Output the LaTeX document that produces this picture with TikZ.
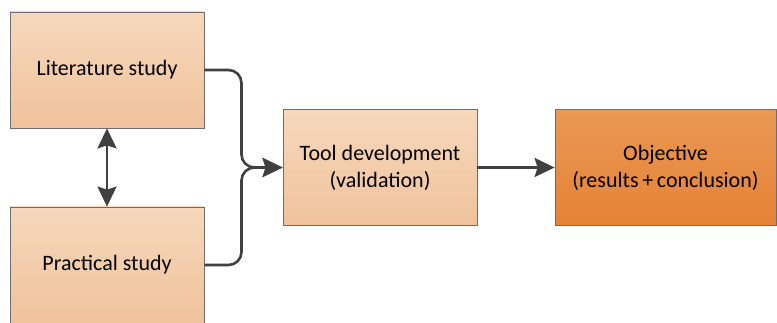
\documentclass[tikz,border=0pt]{standalone}
\usepackage{fontspec}
\setmainfont{Carlito}
\usetikzlibrary{arrows.meta}
\definecolor{lighttop}{RGB}{246,216,188}
\definecolor{lightbot}{RGB}{240,194,156}
\definecolor{darktop}{RGB}{234,152,86}
\definecolor{darkbot}{RGB}{229,130,52}
\definecolor{edgegray}{RGB}{110,110,110}
\definecolor{linegray}{RGB}{64,64,64}
\tikzset{
  lightbox/.style={draw=edgegray, line width=0.8pt, top color=lighttop, bottom color=lightbot,
    minimum width=194pt, minimum height=116pt, inner sep=0pt, align=center, font=\fontsize{22}{27}\selectfont, text=black},
  darkbox/.style={lightbox, top color=darktop, bottom color=darkbot, minimum width=221pt},
  conn/.style={draw=linegray, line width=2.6pt, -{Stealth[length=20pt,width=19pt,inset=3pt]}},
  dconn/.style={draw=linegray, line width=2.6pt, {Stealth[length=20pt,width=19pt,inset=3pt]}-{Stealth[length=20pt,width=19pt,inset=3pt]}}
}
\begin{document}
\begin{tikzpicture}[x=1pt,y=-1pt]
\useasboundingbox (0,0) rectangle (777,323);
\node[lightbox] (lit) at (107,70) {Literature study};
\node[lightbox] (prac) at (107,265) {Practical study};
\node[lightbox] (tool) at (380,167.5) {Tool development\\(validation)};
\node[darkbox] (obj) at (665.5,167.5) {Objective\\(results\,+\,conclusion)};
\coordinate (m) at (241.5,167.5);
\draw[conn, rounded corners=13pt] (lit.east) -| (m) -- (tool.west);
\draw[conn, rounded corners=13pt] (prac.east) -| (m) -- (tool.west);
\draw[conn] (tool.east) -- (obj.west);
\draw[dconn] (lit.south) -- (prac.north);
\end{tikzpicture}
\end{document}
